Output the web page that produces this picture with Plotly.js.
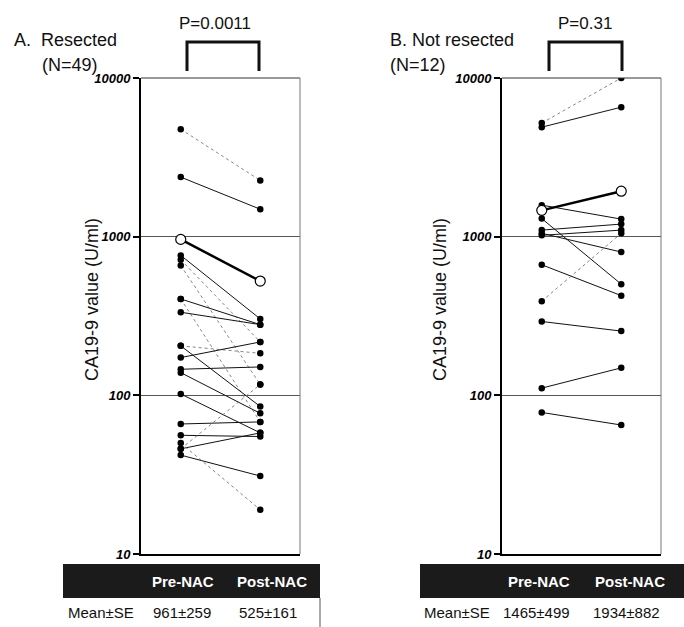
<!DOCTYPE html>
<html>
<head>
<meta charset="utf-8">
<script src="https://cdn.plot.ly/plotly-3.0.1.min.js"></script>
<style>html,body{margin:0;padding:0;background:#fff;}#chart{width:684px;height:627px;}</style>
</head>
<body>
<div id="chart"></div>
<script>
// ---- data ----
const categories = ['Pre-NAC', 'Post-NAC'];
const tickValues = [10, 100, 1000, 10000];
const tickLabels = ['10', '100', '1000', '10000'];

// Panel A: Resected (N=49) – visible pairs
const preA  = [4755, 2373, 762, 715, 658, 405, 405, 334, 205, 205, 173, 146, 139, 102, 66, 56, 46, 46, 42, 50];
const postA = [2262, 1489, 303, 217, 117, 279, 68, 279, 85, 184, 217, 151, 77, 58, 68, 55, 58, 117, 31, 19];
const faintA = [1, 0, 0, 1, 1, 0, 1, 0, 0, 1, 0, 0, 0, 0, 0, 0, 0, 1, 0, 1];

// Panel B: Not resected (N=12)
const preB  = [5200, 4900, 1580, 1300, 1100, 1050, 1020, 665, 392, 292, 111, 78];
const postB = [10000, 6550, 1290, 502, 1200, 800, 1100, 425, 1050, 254, 149, 65];
const faintB = [1, 0, 0, 0, 0, 0, 0, 0, 1, 0, 0, 0];

// Means and SE
const meanA = [961, 525];
const seA   = [259, 161];
const meanB = [1465, 1934];
const seB   = [499, 882];

const pValues = ['P=0.0011', 'P=0.31'];
const panelTitles = ['A.  Resected', 'B. Not resected'];
const panelN = ['(N=49)', '(N=12)'];
const rowLabel = 'Mean\u00B1SE';
const axisTitle = 'CA19-9 value (U/ml)';

// ---- helpers ----
const W = 684, H = 627;
const px = x => x / W;
const py = y => 1 - y / H;

const traces = [];
function addPanel(pre, post, faint, mean, xa, ya) {
  for (let i = 0; i < pre.length; i++) {
    const f = faint[i] === 1;
    traces.push({
      x: [0, 1], y: [pre[i], post[i]], xaxis: xa, yaxis: ya,
      mode: 'lines+markers', hoverinfo: 'skip', showlegend: false,
      line: f ? {color: '#777', width: 0.9, dash: 'dot'} : {color: '#111', width: 1},
      marker: {color: 'black', size: 6.5}
    });
  }
  traces.push({
    x: [0, 1], y: mean, xaxis: xa, yaxis: ya,
    mode: 'lines+markers', hoverinfo: 'skip', showlegend: false,
    line: {color: 'black', width: 2.5},
    marker: {color: 'white', size: 10, line: {color: 'black', width: 1.2}}
  });
}
addPanel(preA, postA, faintA, meanA, 'x', 'y');
addPanel(preB, postB, faintB, meanB, 'x2', 'y2');

const yDom = [py(554), py(78)];
function yAxis() {
  return {
    type: 'log', range: [1, 4], domain: yDom,
    tickvals: tickValues, ticktext: tickLabels,
    tickfont: {family: 'Arial, Liberation Sans', size: 13, weight: 'bold', style: 'italic', color: 'black'},
    ticks: 'outside', ticklen: 6, tickwidth: 2, tickcolor: 'black',
    showline: true, linewidth: 2, linecolor: 'black',
    showgrid: true, gridcolor: '#555', gridwidth: 1, zeroline: false, fixedrange: true
  };
}
function xAxis(d0, d1) {
  return {
    domain: [px(d0), px(d1)], range: [-0.5, 1.5],
    showticklabels: false, showgrid: false, zeroline: false, ticks: '',
    showline: true, linecolor: 'black', linewidth: 1.5, fixedrange: true
  };
}

const shapes = [];
[['x', 'y'], ['x2', 'y2']].forEach(([xa, ya]) => {
  shapes.push({type: 'line', xref: xa + ' domain', yref: ya + ' domain', x0: 0, x1: 1, y0: 1, y1: 1, line: {color: '#333', width: 1}});
  shapes.push({type: 'line', xref: xa + ' domain', yref: ya + ' domain', x0: 1, x1: 1, y0: 0, y1: 1, line: {color: '#777', width: 1}});
});
// brackets
function bracket(xl, xr) {
  return {type: 'path', xref: 'paper', yref: 'paper',
    path: `M ${px(xl)},${py(71)} L ${px(xl)},${py(42)} L ${px(xr)},${py(42)} L ${px(xr)},${py(71)}`,
    line: {color: '#111', width: 3}};
}
shapes.push(bracket(187, 259));
shapes.push(bracket(549, 622));
// table headers
shapes.push({type: 'rect', xref: 'paper', yref: 'paper', x0: px(63), x1: px(320), y0: py(598), y1: py(564), fillcolor: '#1b1b1b', line: {width: 0}});
shapes.push({type: 'rect', xref: 'paper', yref: 'paper', x0: px(420), x1: px(684), y0: py(598), y1: py(564), fillcolor: '#1b1b1b', line: {width: 0}});
shapes.push({type: 'line', xref: 'paper', yref: 'paper', x0: px(320), x1: px(320), y0: py(627), y1: py(598), line: {color: '#555', width: 1}});

const ann = [];
function txt(t, x, y, opts) {
  ann.push(Object.assign({text: t, x: px(x), y: py(y), xref: 'paper', yref: 'paper', showarrow: false,
    xanchor: 'center', yanchor: 'middle',
    font: {family: 'Arial, Liberation Sans', size: 17, color: '#111'}}, opts || {}));
}
const ttlFont = {family: 'Arial, Liberation Sans', size: 18, color: '#111'};
// panel titles
txt(panelTitles[0], 12, 40, {xanchor: 'left', font: ttlFont});
txt(panelN[0], 40, 65, {xanchor: 'left', font: ttlFont});
txt(panelTitles[1], 388, 40, {xanchor: 'left', font: ttlFont});
txt(panelN[1], 388, 65, {xanchor: 'left', font: ttlFont});
txt(pValues[0], 215, 24);
txt(pValues[1], 585, 24);
// y axis titles
const yFont = {family: 'Arial, Liberation Sans', size: 18, color: '#111'};
txt(axisTitle, 92, 300, {textangle: -90, font: yFont});
txt(axisTitle, 440, 300, {textangle: -90, font: yFont});
// tables
const hdrFont = {family: 'Liberation Sans Narrow, Arial Narrow, Arial', size: 15, color: 'white', weight: 'bold'};
const rowFont = {family: 'Arial, Liberation Sans', size: 15, color: '#111'};
const fmt = (m, s) => m + '\u00B1' + s;
txt(categories[0], 183, 581, {font: hdrFont});
txt(categories[1], 272, 581, {font: hdrFont});
txt(rowLabel, 66, 612, {xanchor: 'left', font: rowFont});
txt(fmt(meanA[0], seA[0]), 182, 612, {font: rowFont});
txt(fmt(meanA[1], seA[1]), 268, 612, {font: rowFont});
txt(categories[0], 539, 581, {font: hdrFont});
txt(categories[1], 630, 581, {font: hdrFont});
txt(rowLabel, 422, 612, {xanchor: 'left', font: rowFont});
txt(fmt(meanB[0], seB[0]), 536, 612, {font: rowFont});
txt(fmt(meanB[1], seB[1]), 626, 612, {font: rowFont});

const layout = {
  width: W, height: H, margin: {l: 0, r: 0, t: 0, b: 0},
  paper_bgcolor: 'white', plot_bgcolor: 'white', showlegend: false, hovermode: false,
  xaxis: xAxis(141, 300), yaxis: yAxis(),
  xaxis2: Object.assign(xAxis(502, 661), {anchor: 'y2'}),
  yaxis2: Object.assign(yAxis(), {anchor: 'x2'}),
  shapes: shapes, annotations: ann
};
layout.xaxis.anchor = 'y';
layout.yaxis.anchor = 'x';
Plotly.newPlot('chart', traces, layout, {staticPlot: true});
</script>
</body>
</html>
